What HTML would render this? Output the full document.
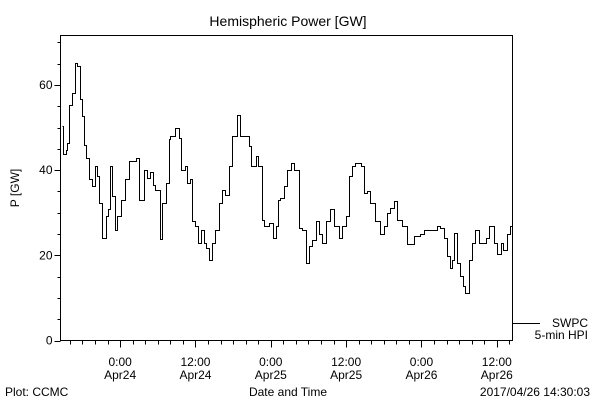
<!DOCTYPE html>
<html><head><meta charset="utf-8"><style>
html,body{margin:0;padding:0;background:#fff;}
svg{display:block;font-family:"Liberation Sans",sans-serif;}
</style></head><body>
<svg id="chart" width="600" height="400" viewBox="0 0 600 400">
<rect width="600" height="400" fill="#fff"/>
<text x="288" y="26" font-size="14" text-anchor="middle">Hemispheric Power [GW]</text>
<text x="19" y="188" font-size="12" text-anchor="middle" transform="rotate(-90 19 188)">P [GW]</text>
<text x="288" y="396" font-size="12" text-anchor="middle">Date and Time</text>
<text x="5" y="396" font-size="12">Plot: CCMC</text>
<text x="590" y="396" font-size="12" text-anchor="end">2017/04/26 14:30:03</text>
<rect x="60.5" y="35.5" width="452" height="305" fill="none" stroke="#000" stroke-width="1" shape-rendering="crispEdges"/>
<g id="axes" shape-rendering="crispEdges"></g>
<path id="series" fill="none" stroke="#000" stroke-width="1" shape-rendering="crispEdges"/>
<line x1="512" y1="323.5" x2="540" y2="323.5" stroke="#000" shape-rendering="crispEdges"/>
<text x="588" y="327" font-size="12" text-anchor="end">SWPC</text>
<text x="588" y="339" font-size="12" text-anchor="end">5-min HPI</text>
</svg>
<script>
// hours since start (Apr23 ~14:30)
const times=[0.16,0.37,0.8,1.11,1.43,1.86,2.28,2.6,3.03,3.35,3.71,4.09,4.51,5.05,5.46,5.85,6.21,6.64,7.17,7.6,7.85,8.24,8.65,9.03,9.56,10.35,10.88,11.95,12.47,13.27,13.81,14.18,14.7,15.13,15.77,16.2,16.73,17.25,17.52,18.21,18.95,19.27,19.8,20.18,20.6,20.98,21.5,21.93,22.46,22.83,23.21,23.62,24.16,24.69,25.22,25.76,26.28,26.81,27.35,28.15,28.67,29.58,29.99,30.31,30.95,31.17,31.49,32.13,32.38,33.18,33.82,34.25,34.68,35.04,35.57,36,36.64,37.16,37.96,38.5,39.03,39.55,40.09,40.62,41.14,41.68,42.37,43,43.53,44.33,44.87,45.4,45.92,46.46,46.99,47.79,48.31,48.85,49.38,50.17,50.97,51.5,52.04,52.56,53.09,53.63,54.43,55.22,56.28,57.34,57.87,58.94,60,60.53,61.05,61.6,62.12,62.39,62.76,63.19,63.6,64.14,64.51,65.04,65.58,66.1,66.63,67.7,68.22,68.65,69.02,69.56,70.09,70.52,71.15,71.68,71.95];
const power=[50.3,43.7,44.8,46.4,55.4,58.1,65.2,64.4,56.6,52.7,46,42.9,37.8,36.2,40.9,38.6,32.3,24.1,29.2,30.8,40.9,33.9,26,29.2,33.1,37.8,42.1,42.9,33.1,40.1,38.2,39.5,36.6,35.3,23.9,32.3,37,47.2,48.1,49.9,47.5,40.1,41,37,37.8,28,26.8,22.9,26,22.9,21.8,19,22.9,26,32.3,35.3,34.2,41,48,53,48,48,45.6,41,41,43.3,41,28.4,26.8,27.6,24.1,26.8,33.1,33.5,36.2,40.1,41.7,40.1,26.4,26,18.2,22.1,23.6,28,24.9,23,28,30.8,26.8,24.1,26.8,29.2,38.6,41,41.7,41,34.7,35,32.3,28,25.1,26.8,29.9,31.1,32.7,28.4,26.8,22.6,24.5,24.9,26,26,26.8,26.4,24.1,19.8,17.1,19,25.3,18.2,15.1,12.7,11.2,19,22.9,26,22.9,24.1,26.8,26.8,22.9,20.2,22.9,21.3,24.9,26.8,26];
const yTicks=[0,20,40,60];
const xMajorHours=[9.5,21.5,33.5,45.5,57.5,69.5];
const xTimeLabels=["0:00","12:00","0:00","12:00","0:00","12:00"];
const xDateLabels=["Apr24","Apr24","Apr25","Apr25","Apr26","Apr26"];
const X0=60.5,X1=512.5,Y0=340.5,Y1=35.5,TMAX=72,VMAX=71.6;
function xs(t){return X0+(t/TMAX)*(X1-X0);}
function ys(v){return Y0-(v/VMAX)*(Y0-Y1);}
const NS="http://www.w3.org/2000/svg";
const ax=document.getElementById('axes');
function mk(tag,attrs){const e=document.createElementNS(NS,tag);for(const k in attrs)e.setAttribute(k,attrs[k]);ax.appendChild(e);return e;}
for(let v=0;v<=70;v+=5){
  const l=mk('line',{x1:X0-(v%20===0?6:3),x2:X0,y1:Math.round(ys(v))+0.5,y2:Math.round(ys(v))+0.5,stroke:'#000'});
  
  
}
yTicks.forEach(v=>{
  const t=mk('text',{x:X0-8,y:ys(v)+4,'font-size':12,'text-anchor':'end'});
  t.textContent=v;
  
  
});
for(let h=xMajorHours[0]%2;h<=TMAX;h+=2){
  const major=xMajorHours.some(m=>Math.abs(m-h)<0.01);
  const x=Math.round(xs(h))+0.5;
  const l=mk('line',{x1:x,x2:x,y1:Y0,y2:Y0+(major?7:4),stroke:'#000'});
  
  
}
xMajorHours.forEach((h,i)=>{
  const a=mk('text',{x:xs(h),y:366,'font-size':12,'text-anchor':'middle','shape-rendering':'auto'});
  a.textContent=xTimeLabels[i];
  
  
  const b=mk('text',{x:xs(h),y:379,'font-size':12,'text-anchor':'middle'});
  b.textContent=xDateLabels[i];
  
  
});
let d='';
times.forEach((t,i)=>{
  const x=Math.round(xs(t))+0.5, y=Math.round(ys(power[i]))+0.5;
  if(i===0){d+='M'+x+' '+y;}else{d+='H'+x+'V'+y;}
});
document.getElementById('series').setAttribute('d',d);
</script>
</body></html>
